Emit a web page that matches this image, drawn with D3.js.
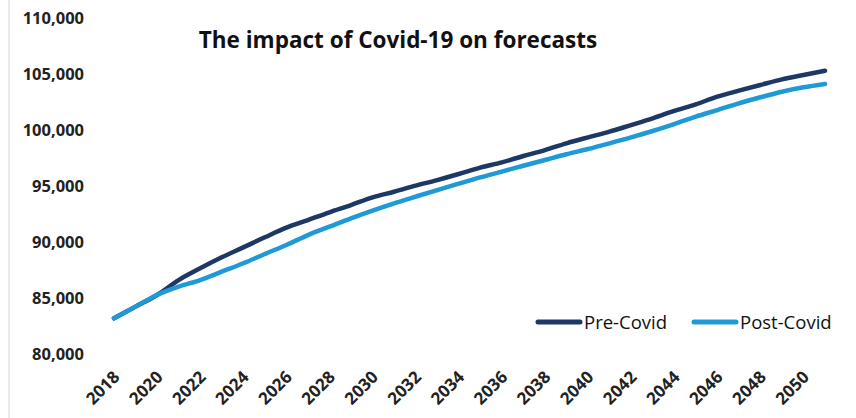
<!DOCTYPE html>
<html>
<head>
<meta charset="utf-8">
<script src="https://cdn.jsdelivr.net/npm/d3@7/dist/d3.min.js"></script>
<style>
  body { margin: 0; background: #fff; }
  svg { display: block; font-family: "Open Sans", sans-serif; }
</style>
</head>
<body>
<div id="chart"></div>
<script>
// datos
var years = d3.range(2018, 2052);
var preCovid = [83190, 84230, 85270, 86600, 87650, 88630, 89520, 90420, 91280, 91960,
                92650, 93300, 93990, 94490, 95030, 95530, 96070, 96640, 97110, 97680,
                98210, 98810, 99340, 99850, 100440, 101040, 101700, 102290, 102980, 103510,
                104020, 104520, 104910, 105290];
var postCovid = [83190, 84230, 85270, 86010, 86600, 87350, 88100, 88930, 89730, 90620,
                 91370, 92110, 92800, 93450, 94050, 94640, 95210, 95770, 96280, 96810,
                 97320, 97830, 98300, 98810, 99340, 99910, 100530, 101190, 101780, 102380,
                 102920, 103420, 103810, 104110];
var yTicks = [80000, 85000, 90000, 95000, 100000, 105000, 110000];
var xTicks = d3.range(2018, 2051, 2);
var seriesNames = ["Pre-Covid", "Post-Covid"];
var colores = ["#1d3865", "#1f9ad6"];

var W = 856, H = 418;

var svg = d3.select("#chart").append("svg")
  .attr("width", W).attr("height", H);

// borde tenue del escaneo
svg.append("line").attr("x1", 9).attr("x2", 9).attr("y1", 0).attr("y2", H)
  .attr("stroke", "#e2e2e2").attr("stroke-width", 1.5);

var x = d3.scalePoint().domain(years).range([114, 825]);
var y = d3.scaleLinear().domain([80000, 110000]).range([354, 18]);

// eje y
var yAxis = d3.axisLeft(y).tickValues(yTicks).tickSize(0).tickPadding(0)
  .tickFormat(d3.format(","));
var gy = svg.append("g").attr("transform", "translate(84,0)").call(yAxis);
gy.select(".domain").remove();
gy.selectAll("text").attr("font-size", 16.5).attr("font-weight", "bold")
  .attr("fill", "#222").attr("font-family", "Open Sans");

// eje x
var xAxis = d3.axisBottom(x).tickValues(xTicks).tickSize(0).tickPadding(0);
var gx = svg.append("g").attr("transform", "translate(0,360)").call(xAxis);
gx.select(".domain").remove();
gx.selectAll("text")
  .attr("font-size", 17).attr("font-weight", "bold").attr("fill", "#222")
  .attr("font-family", "Open Sans")
  .attr("text-anchor", "end")
  .attr("dy", "0.35em")
  .attr("transform", "translate(2,14) rotate(-45)");

// lineas
var linea = d3.line()
  .x(function(d, i) { return x(years[i]); })
  .y(function(d) { return y(d); })
  .curve(d3.curveMonotoneX);

[preCovid, postCovid].forEach(function(serie, k) {
  svg.append("path")
    .attr("d", linea(serie))
    .attr("fill", "none")
    .attr("stroke", colores[k])
    .attr("stroke-width", 4.5)
    .attr("stroke-linecap", "round")
    .attr("stroke-linejoin", "round");
});

// titulo
svg.append("text")
  .attr("x", 398).attr("y", 48)
  .attr("text-anchor", "middle")
  .attr("font-size", 22.5).attr("font-weight", "bold").attr("fill", "#111")
  .text("The impact of Covid-19 on forecasts");

// leyenda
var legX = [538, 694];
var leg = svg.append("g");
seriesNames.forEach(function(n, k) {
  leg.append("line")
    .attr("x1", legX[k]).attr("x2", legX[k] + 42)
    .attr("y1", 322).attr("y2", 322)
    .attr("stroke", colores[k]).attr("stroke-width", 5)
    .attr("stroke-linecap", "round");
  leg.append("text")
    .attr("x", legX[k] + 46).attr("y", 329)
    .attr("font-size", 18.5).attr("fill", "#111")
    .text(n);
});
</script>
</body>
</html>
